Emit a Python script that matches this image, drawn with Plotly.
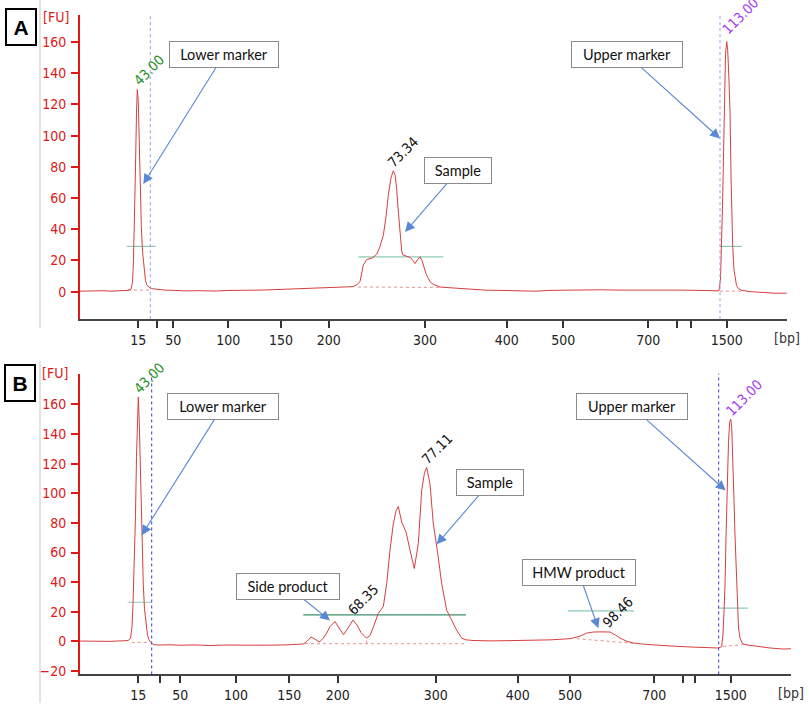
import plotly.graph_objects as go

# ---------------- data ----------------
# migration position (arbitrary units along the run) and fluorescence [FU]
A_pos = [0, 8, 15, 23, 30, 38, 45, 48, 51, 52.5, 53.5, 54.5, 55.5, 56.5, 57.3, 58.3, 59.3, 60.3,
         61.3, 62.5, 64, 65.5, 67, 70, 73, 77, 85, 95, 105, 120, 135, 150, 165, 180, 195, 210,
         220, 235, 250, 260, 273, 277, 280, 283.3, 286.7, 289, 292, 294, 296.7, 300, 303.3, 306,
         308.3, 311, 313.3, 315, 316.7, 318, 319.3, 320.5, 321.7, 323, 325, 330, 333, 335, 337.5,
         340, 342, 343.3, 346, 348.3, 350.5, 353.3, 357, 360, 370, 380, 390, 405, 420, 440, 455,
         470, 485, 500, 520, 540, 560, 580, 600, 620, 632, 636, 639, 640.5, 641.7, 642.5, 643.3,
         644.5, 645.5, 646.7, 647.7, 649, 650, 651, 651.7, 652.7, 654, 655, 656.5, 658.3, 662,
         670, 680, 695, 706.7]
A_fu = [0.3, 0.5, 0.2, 0.6, 0.3, 0.6, 0.6, 0.8, 1.5, 6, 20, 45, 80, 115, 129.6, 122, 95, 65,
        42, 26, 14, 7, 4, 2.5, 1.8, 1.5, 1.0, 0.8, 0.5, 0.6, 0.4, 0.8, 0.7, 1.0, 1.3, 1.6,
        1.9, 2.0, 2.4, 2.7, 3.2, 4.5, 6.4, 17, 20.5, 21, 21.5, 22.5, 24, 29, 36, 48,
        62, 73, 77.5, 75, 66, 54, 42, 32, 26, 23.5, 23, 22, 20, 18, 20.5,
        22.3, 20, 17, 11.5, 8.5, 6, 4.7, 3.5, 3, 2.5, 2.0, 1.5, 1.0, 0.8, 0.5, 0.3,
        0.8, 1.0, 0.9, 1.2, 1.0, 1.1, 0.9, 1.0, 0.8, 0.5, 0.3, 0.5, 8, 29, 55, 80,
        125, 152, 160.3, 155, 135, 115, 75, 49, 29, 14, 8.5, 4, 2, 0.8,
        0, -0.5, -1, -1]

B_pos = [0, 10, 20, 30, 40, 45, 48, 50.5, 52, 53, 54.5, 55.5, 56.5, 57.5, 58.3, 59.2, 60.3,
         61.3, 62.3, 63.3, 64.5, 66, 67.5, 69, 70.5, 73.3, 80, 90, 100, 115, 130, 145, 160,
         175, 190, 205, 215, 223.3, 227, 231, 235, 239.3, 243, 246.7, 250, 255, 259, 263.5,
         268, 273, 277, 281, 286.5, 290, 293, 295, 298.3, 303.3, 306.7, 310, 313.3, 316,
         318.3, 321.7, 326, 330, 334.3, 338.3, 341.7, 344.5, 346.7, 350, 353.3, 357.3, 361.7,
         366.7, 370, 373, 376.7, 381.7, 386, 393, 410, 430, 450, 470, 490, 500, 506.7, 513.3,
         520, 530, 535, 540, 547, 553.3, 565, 576.7, 595, 610, 625, 638.3, 641.7, 643, 644,
         645, 646, 647.3, 648.5, 649.7, 650.7, 651.7, 652.7, 653.8, 655, 656.2, 657.3, 658.5,
         660, 662, 665, 676.7, 690, 703.3, 711]
B_fu = [0.2, 0.0, -0.3, 0.0, 0.3, 0.3, 0.5, 2, 10, 25, 55, 85, 125, 155, 165, 150, 120,
        90, 60, 38, 22, 10, 4, 1, -0.5, -2.2, -2.5, -2.3, -2.6, -2.4, -2.8, -2.5, -2.7,
        -2.5, -2.6, -2.4, -2.2, -1.8, 0, 2.9, 1.5, -0.5, 2, 5.6, 10, 13.4, 9, 4.5,
        9, 14.4, 11, 6, 2.2, 4, 9, 12.3, 19, 23.5, 39, 61.6, 79.4, 88,
        91.1, 80.6, 73.9, 61.6, 49.2, 66, 101.9, 114, 117.5, 106.3, 79.4, 61.6, 39,
        21, 16.5, 12, 7.5, 2.2, 1, 0.6, 0.3, 0.5, 0.5, 1.0, 1.8, 3.5, 5.6, 6.3,
        6.4, 6.3, 4.5, 2.2, 0, -1.1, -2, -2.7, -3.3, -3.8, -4.2, -4.5, -3.5, 5, 20,
        38, 70, 105, 135, 148, 150, 145, 127.6, 100, 71.7, 45, 22.4, 9,
        2.2, -1, -2.2, -3.5, -4.5, -5.2, -5]

# size ladder (bp) and where each ladder band sits on each run's axis
ladder_bp = ["15", "25", "50", "100", "150", "200", "300", "400", "500", "700", "850", "1000", "1500"]
ladder_shown = ["15", "", "50", "100", "150", "200", "300", "400", "500", "700", "", "", "1500"]
A_ladder_pos = [58.3, 77.3, 93.3, 148.3, 201, 248.7, 345, 426.7, 483.3, 568.3, 596.7, 610.7, 646.7]
B_ladder_pos = [58.3, 80, 100.3, 156, 209.3, 257.7, 355.7, 437.7, 490, 574.3, 602.7, 614.7, 650.7]

# marker positions (dotted lines)
A_marker_pos = [70.3, 640]
B_marker_pos = [71.7, 638.7]

# peak-region thresholds: (start, end, level FU)
A_thresh = [(46.7, 75.7, 29), (278.3, 363.3, 22.3), (640, 661.7, 29)]
B_thresh = [(47.7, 71.7, 26.4), (223.3, 386, 17.9), (487.7, 554, 20.6), (638.3, 667.7, 22.4)]
# baselines under peaks: (x0, y0, x1, y1)
A_base = [(48, 1.0, 70, 1.0), (278, 3.0, 363, 2.7), (640, 0.3, 661, 0.3)]
B_base = [(51.7, -0.7, 66.7, -0.7), (225, -1.6, 385, -1.6), (286.7, -1.6, 286.7, 2.2),
          (496.7, 1.8, 553, -1.3), (643, -3.4, 665, -2.2)]

# peak labels: text, colour, centre (pos, FU)
A_peak_labels = [("43.00", "#1f8f1f", 69, 142), ("73.34", "#111111", 323, 89.4),
                 ("113.00", "#a43cf0", 660, 177)]
B_peak_labels = [("43.00", "#1f8f1f", 69, 178), ("77.11", "#111111", 356.7, 130),
                 ("68.35", "#111111", 282.5, 28.2), ("98.46", "#111111", 538, 19.5),
                 ("113.00", "#a43cf0", 663.7, 164.5)]

# callouts: text, box centre (pos, FU), arrow tip (pos, FU), box width px
A_callouts = [("Lower marker", 144, 151.9, 63.3, 69.0, 104),
              ("Sample", 378.3, 77.8, 325, 38.2, 62),
              ("Upper marker", 546.7, 152.1, 640, 98.2, 106)]
B_callouts = [("Lower marker", 142.7, 158.7, 61.7, 71.7, 106),
              ("Side product", 208.3, 36.9, 250, 14.1, 98),
              ("Sample", 409.7, 107.0, 356.7, 65.6, 62),
              ("HMW product", 498.7, 46.5, 518.3, 8.9, 108),
              ("Upper marker", 551.7, 158.7, 645.7, 101.9, 106)]

# ---------------- figure ----------------
W, H = 809, 707
def fx(p):
    return p / W
def fy(p):
    return 1 - p / H

TRACE = "#d63f3f"
TICKFONT = "Tahoma, 'DejaVu Sans Condensed', 'Liberation Sans', sans-serif"
BOXFONT = "Lato, 'Open Sans', sans-serif"
CENTER = dict(xanchor="center", yanchor="middle")

fig = go.Figure()

panels = [
    dict(pos=A_pos, fu=A_fu, lad=A_ladder_pos, mk=A_marker_pos, th=A_thresh, base=A_base,
         peaks=A_peak_labels, calls=A_callouts, xa="x", ya="y", xdom=(80, 787), ydom=(321, 15),
         yr=(-17.65, 177.4), xr=(0, 707), yt=list(range(0, 161, 20)),
         thcol=["#8ccbb6", "#8ccbb6", "#8ccbb6"], mkcol="#9a9af0",
         label="A", lbl_c=(21, 27), fu_c=(56, 17), bp_c=(787, 340), sep=(0, 330)),
    dict(pos=B_pos, fu=B_fu, lad=B_ladder_pos, mk=B_marker_pos, th=B_thresh, base=B_base,
         peaks=B_peak_labels, calls=B_callouts, xa="x2", ya="y2", xdom=(80, 791), ydom=(678.3, 375.7),
         yr=(-22.36, 180.86), xr=(0, 711), yt=list(range(-20, 161, 20)),
         thcol=["#8ccbb6", "#3f8f6c", "#8ccbb6", "#8ccbb6"], mkcol="#3a3acc",
         label="B", lbl_c=(20, 385), fu_c=(55, 375), bp_c=(791, 697), sep=(363, 707)),
]

annotations = []
shapes = []
for i, P in enumerate(panels):
    xa, ya = P["xa"], P["ya"]
    # threshold lines
    for (x0, x1, lv), c in zip(P["th"], P["thcol"]):
        fig.add_trace(go.Scatter(x=[x0, x1], y=[lv, lv], mode="lines", xaxis=xa, yaxis=ya,
                                 line=dict(color=c, width=1.2), hoverinfo="skip", showlegend=False))
    # baselines under peaks
    for (x0, y0, x1, y1) in P["base"]:
        fig.add_trace(go.Scatter(x=[x0, x1], y=[y0, y1], mode="lines", xaxis=xa, yaxis=ya,
                                 line=dict(color="#e89090", width=1, dash="dot"),
                                 hoverinfo="skip", showlegend=False))
    # electropherogram
    fig.add_trace(go.Scatter(x=P["pos"], y=P["fu"], mode="lines", xaxis=xa, yaxis=ya,
                             line=dict(color=TRACE, width=1), showlegend=False))
    # marker dotted lines
    for m in P["mk"]:
        shapes.append(dict(type="line", xref=xa, yref=ya + " domain", x0=m, x1=m, y0=0, y1=1,
                           line=dict(color=P["mkcol"], width=1, dash="dot")))
    # separator line
    shapes.append(dict(type="line", xref="paper", yref="paper", x0=fx(40), x1=fx(40),
                       y0=fy(P["sep"][1]), y1=fy(P["sep"][0]),
                       line=dict(color="#c8c8c8", width=1)))
    # peak labels
    for (t, c, x, y) in P["peaks"]:
        annotations.append(dict(text=t, x=x, y=y, xref=xa, yref=ya, showarrow=False,
                                textangle=-45, font=dict(family=TICKFONT, size=14, color=c),
                                **CENTER))
    # callouts
    for (t, bx, by, tx, ty, w) in P["calls"]:
        annotations.append(dict(text=t, x=tx, y=ty, xref=xa, yref=ya, ax=bx, ay=by,
                                axref=xa, ayref=ya, showarrow=True, arrowhead=2,
                                arrowsize=1.8, arrowwidth=1.1, arrowcolor="#5a88d4",
                                bgcolor="white", bordercolor="#8a8a8a", borderwidth=1,
                                borderpad=2, width=w, height=21,
                                font=dict(family=BOXFONT, size=14.5, color="#111"), **CENTER))
    # panel label
    annotations.append(dict(text="<b>%s</b>" % P["label"], x=fx(P["lbl_c"][0]), y=fy(P["lbl_c"][1]),
                            xref="paper", yref="paper", showarrow=False, bgcolor="white",
                            bordercolor="black", borderwidth=2, borderpad=3, width=22, height=28,
                            font=dict(family="Liberation Sans, Arial, sans-serif", size=21, color="black"),
                            **CENTER))
    annotations.append(dict(text="[FU]", x=fx(P["fu_c"][0]), y=fy(P["fu_c"][1]), xref="paper",
                            yref="paper", showarrow=False,
                            font=dict(family=TICKFONT, size=14, color="#e01818"), **CENTER))
    annotations.append(dict(text="[bp]", x=fx(P["bp_c"][0]), y=fy(P["bp_c"][1]), xref="paper",
                            yref="paper", showarrow=False,
                            font=dict(family=TICKFONT, size=14, color="#333"), **CENTER))

    axkey = "xaxis" if i == 0 else "xaxis2"
    aykey = "yaxis" if i == 0 else "yaxis2"
    fig.update_layout(**{
        axkey: dict(domain=[fx(P["xdom"][0]), fx(P["xdom"][1])], range=list(P["xr"]),
                    anchor=ya, tickmode="array", tickvals=P["lad"], ticktext=ladder_shown,
                    ticks="outside", ticklen=7, tickwidth=1.5, tickcolor="#333",
                    showline=True, linecolor="#444", linewidth=1.5, showgrid=False,
                    zeroline=False, tickfont=dict(family=TICKFONT, size=14, color="#222")),
        aykey: dict(domain=[fy(P["ydom"][0]), fy(P["ydom"][1])], range=list(P["yr"]),
                    anchor=xa, tickmode="array", tickvals=P["yt"], ticks="outside",
                    ticklen=7, tickwidth=1.5, tickcolor="#e01818", showline=True,
                    linecolor="#e01818", linewidth=2, showgrid=False, zeroline=False,
                    ticklabelstandoff=2,
                    tickfont=dict(family=TICKFONT, size=14, color="#e01818")),
    })

fig.update_layout(width=W, height=H, margin=dict(l=0, r=0, t=0, b=0),
                  paper_bgcolor="white", plot_bgcolor="white", showlegend=False,
                  annotations=annotations, shapes=shapes)

fig.write_html("out.html", config={"displayModeBar": False},
               post_script="document.body.style.margin='0';document.body.style.overflow='hidden';")
